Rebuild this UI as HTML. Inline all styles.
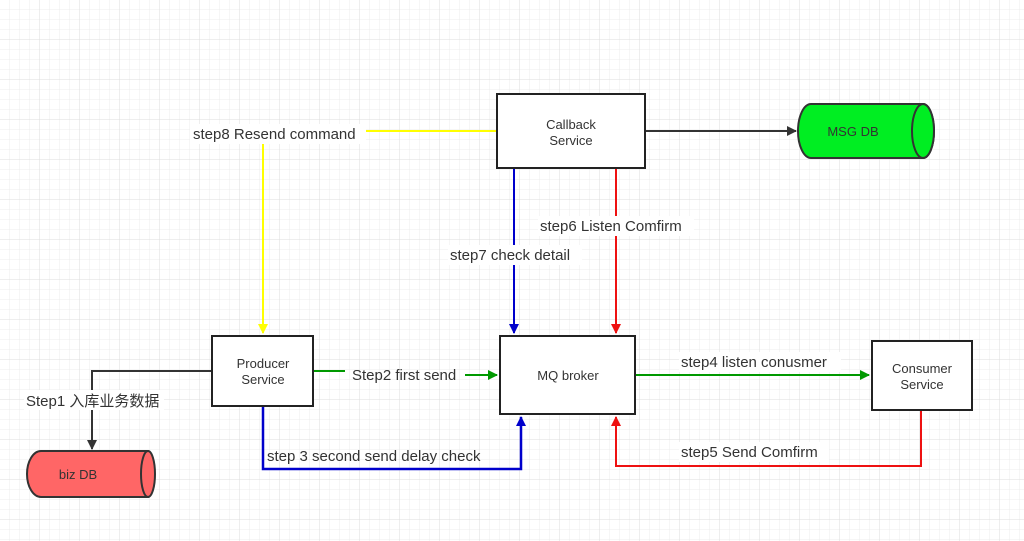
<!DOCTYPE html>
<html><head><meta charset="utf-8"><style>
html,body{margin:0;padding:0;background:#fff}
svg{display:block}
text{font-family:"Liberation Sans","Noto Sans CJK SC",sans-serif}
</style></head><body>
<svg width="1024" height="541" viewBox="0 0 1024 541">
<defs>
<pattern id="g" width="10" height="10" patternUnits="userSpaceOnUse">
<path d="M10 0V10H0" fill="none" stroke="#ececec" stroke-width="1"/>
</pattern>
<pattern id="G" width="40" height="40" patternUnits="userSpaceOnUse">
<rect width="40" height="40" fill="url(#g)"/>
<path d="M40 0V40H0" fill="none" stroke="#dedede" stroke-width="1"/>
</pattern>
<marker id="ak" markerWidth="10" markerHeight="10" refX="9" refY="5" orient="auto" markerUnits="userSpaceOnUse"><path d="M0 0L10 5L0 10z" fill="#333"/></marker>
<marker id="ay" markerWidth="10" markerHeight="10" refX="9" refY="5" orient="auto" markerUnits="userSpaceOnUse"><path d="M0 0L10 5L0 10z" fill="#ffff00"/></marker>
<marker id="ab" markerWidth="10" markerHeight="10" refX="9" refY="5" orient="auto" markerUnits="userSpaceOnUse"><path d="M0 0L10 5L0 10z" fill="#0000cc"/></marker>
<marker id="ar" markerWidth="10" markerHeight="10" refX="9" refY="5" orient="auto" markerUnits="userSpaceOnUse"><path d="M0 0L10 5L0 10z" fill="#ee1111"/></marker>
<marker id="ag" markerWidth="10" markerHeight="10" refX="9" refY="5" orient="auto" markerUnits="userSpaceOnUse"><path d="M0 0L10 5L0 10z" fill="#009900"/></marker>
</defs>
<rect width="1024" height="541" fill="url(#G)"/>

<!-- connectors -->
<path d="M497 131H263V333" fill="none" stroke="#ffff00" stroke-width="2" marker-end="url(#ay)"/>
<path d="M645 131H796" fill="none" stroke="#333" stroke-width="2" marker-end="url(#ak)"/>
<path d="M514 168V333" fill="none" stroke="#0000cc" stroke-width="2" marker-end="url(#ab)"/>
<path d="M616 168V333" fill="none" stroke="#ee1111" stroke-width="2" marker-end="url(#ar)"/>
<path d="M212 371H92V449" fill="none" stroke="#333" stroke-width="2" marker-end="url(#ak)"/>
<path d="M313 371H345M465 375H497" fill="none" stroke="#009900" stroke-width="2"/>
<path d="M465 375H497" fill="none" stroke="#009900" stroke-width="2" marker-end="url(#ag)"/>
<path d="M263 406V469H521V417" fill="none" stroke="#0000cc" stroke-width="2.5" marker-end="url(#ab)"/>
<path d="M635 375H869" fill="none" stroke="#009900" stroke-width="2" marker-end="url(#ag)"/>
<path d="M921 410V466H616V417" fill="none" stroke="#ee1111" stroke-width="2" marker-end="url(#ar)"/>

<!-- nodes -->
<rect x="497" y="94" width="148" height="74" fill="#fff" stroke="#222" stroke-width="2"/>
<text x="571" y="129" font-size="13" fill="#333" text-anchor="middle">Callback</text>
<text x="571" y="145" font-size="13" fill="#333" text-anchor="middle">Service</text>

<path d="M811 104H923A11 27 0 0 1 923 158H811A13 27 0 0 1 811 104Z" fill="#00ee22" stroke="#333" stroke-width="2"/>
<ellipse cx="923" cy="131" rx="11" ry="27" fill="#00ee22" stroke="#333" stroke-width="2"/>
<text x="853" y="136" font-size="13" fill="#333" text-anchor="middle">MSG DB</text>

<rect x="212" y="336" width="101" height="70" fill="#fff" stroke="#222" stroke-width="2"/>
<text x="263" y="368" font-size="13" fill="#333" text-anchor="middle">Producer</text>
<text x="263" y="384" font-size="13" fill="#333" text-anchor="middle">Service</text>

<rect x="500" y="336" width="135" height="78" fill="#fff" stroke="#222" stroke-width="2"/>
<text x="568" y="380" font-size="13" fill="#333" text-anchor="middle">MQ broker</text>

<rect x="872" y="341" width="100" height="69" fill="#fff" stroke="#222" stroke-width="2"/>
<text x="922" y="373" font-size="13" fill="#333" text-anchor="middle">Consumer</text>
<text x="922" y="389" font-size="13" fill="#333" text-anchor="middle">Service</text>

<path d="M41 451H148A6 23 0 0 1 148 497H41A14 23 0 0 1 41 451Z" fill="#ff6666" stroke="#333" stroke-width="2"/>
<ellipse cx="148" cy="474" rx="7" ry="23" fill="#ff6666" stroke="#333" stroke-width="2"/>
<text x="78" y="479" font-size="13" fill="#333" text-anchor="middle">biz DB</text>

<!-- labels -->
<g font-size="15" fill="#333">
<rect x="190" y="124" width="176" height="20" fill="#fff"/>
<text x="193" y="139">step8 Resend command</text>
<rect x="538" y="216" width="156" height="20" fill="#fff"/>
<text x="540" y="231">step6 Listen Comfirm</text>
<rect x="448" y="245" width="134" height="20" fill="#fff"/>
<text x="450" y="260">step7 check detail</text>
<rect x="24" y="390" width="140" height="20" fill="#fff"/>
<text x="26" y="406">Step1 入库业务数据</text>
<text x="352" y="380">Step2 first send</text>
<rect x="679" y="352" width="162" height="20" fill="#fff"/>
<text x="681" y="367">step4 listen conusmer</text>
<text x="267" y="461">step 3 second send delay check</text>
<rect x="679" y="442" width="150" height="20" fill="#fff"/>
<text x="681" y="457">step5 Send Comfirm</text>
</g>
</svg>
</body></html>
